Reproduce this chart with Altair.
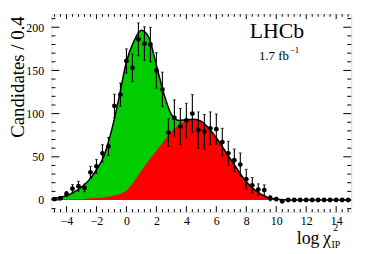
import altair as alt
import pandas as pd

# ---------------- data ----------------
bin_x = [-4.8, -4.4, -4.0, -3.6, -3.2, -2.8, -2.4, -2.0, -1.6, -1.2,
         -0.8, -0.4, 0.0, 0.4, 0.8, 1.2, 1.6, 2.0, 2.4, 2.8,
         3.2, 3.6, 4.0, 4.4, 4.8, 5.2, 5.6, 6.0, 6.4, 6.8,
         7.2, 7.6, 8.0, 8.4, 8.8, 9.2, 9.6, 10.0, 10.4, 10.8,
         11.2, 11.6, 12.0, 12.4, 12.8, 13.2, 13.6, 14.0, 14.4, 14.8]
counts = [1, 2, 7, 13, 16, 14, 32, 39, 54, 62,
          109, 122, 161, 153, 186, 181, 180, 150, 128, 78,
          95, 85, 92, 100, 81, 79, 83, 82, 67, 54,
          46, 41, 24, 17, 12, 11.5, 2, 1, -1.5, 0,
          0, 0, 0, 0, 0, 0, 0, 0, 0, 0]
errors = [1, 1.3, 2.7, 4.8, 5.7, 4.4, 7, 8, 10, 10.5,
          13.4, 13.4, 14, 16, 19, 19.5, 20, 20.6, 20, 16,
          21, 21, 20, 22, 21, 20, 19, 17.6, 16, 14,
          13, 13.5, 11.5, 9, 6.7, 6, 3, 2, 1.5, 0.8,
          0.8, 0.8, 0.8, 0.8, 0.8, 0.8, 0.8, 0.8, 0.8, 0.8]

curve_x = [-5, -4.5, -4, -3.5, -3, -2.5, -2, -1.5, -1, -0.5,
           0, 0.5, 1, 1.5, 2, 2.5, 3, 3.5, 4, 4.5,
           5, 5.5, 6, 6.5, 7, 7.5, 8, 8.5, 9, 9.5,
           10, 10.5, 11, 12, 13, 14, 15]
total_fit = [1.5, 3, 5, 9, 15, 23, 35, 51, 80, 118,
             160, 184, 196.5, 188, 156, 123, 99, 92, 93, 93.5,
             91, 83, 72, 59, 46, 33, 21, 12.5, 6.5, 2.5,
             0.8, 0.2, 0, 0, 0, 0, 0]
bkg_fit = [0.2, 0.4, 0.6, 0.9, 1.2, 1.6, 2.2, 3, 4.5, 6.5,
           11, 21, 34, 46, 57, 68, 79, 87, 91.5, 93.5,
           91, 83, 72, 59, 46, 33, 21, 12.5, 6.5, 2.5,
           0.8, 0.2, 0, 0, 0, 0, 0]

x_major = [-4, -2, 0, 2, 4, 6, 8, 10, 12, 14]
x_minor = [-4.8, -4.4, -3.6, -3.2, -2.8, -2.4, -1.6, -1.2, -0.8, -0.4,
           0.4, 0.8, 1.2, 1.6, 2.4, 2.8, 3.2, 3.6, 4.4, 4.8, 5.2, 5.6,
           6.4, 6.8, 7.2, 7.6, 8.4, 8.8, 9.2, 9.6, 10.4, 10.8, 11.2, 11.6,
           12.4, 12.8, 13.2, 13.6, 14.4, 14.8]
y_major = [0, 50, 100, 150, 200]
y_minor = [-10, 10, 20, 30, 40, 60, 70, 80, 90, 110, 120, 130, 140,
           160, 170, 180, 190, 210]

# ---------------- chart ----------------
W, H = 303, 200
FONT = "Liberation Serif"
xs = alt.Scale(domain=[-5, 15], nice=False, zero=False)
ys = alt.Scale(domain=[-14, 215], nice=False, zero=False)
xax = alt.Axis(values=x_major, tickSize=0, domain=False, grid=False,
               labelFont=FONT, labelFontSize=12, labelPadding=4,
               labelColor="black", title=None, labelFlush=False)
yax = alt.Axis(values=y_major, tickSize=0, domain=False, grid=False,
               labelFont=FONT, labelFontSize=12, labelPadding=8,
               labelColor="black", title=None)


def X(f="x"):
    return alt.X(f"{f}:Q", scale=xs, axis=xax)


def Y(f):
    return alt.Y(f"{f}:Q", scale=ys, axis=yax)


pts = pd.DataFrame({"x": bin_x, "y": counts,
                    "lo": [c - e for c, e in zip(counts, errors)],
                    "hi": [c + e for c, e in zip(counts, errors)]})
fit = pd.DataFrame({"x": curve_x, "tot": total_fit, "bkg": bkg_fit})

green = alt.Chart(fit).mark_area(color="#00cc00", interpolate="monotone").encode(
    x=X(), y=Y("tot"), y2=alt.datum(0))
red = alt.Chart(fit).mark_area(color="#ff0000", interpolate="monotone").encode(
    x=X(), y=Y("bkg"), y2=alt.datum(0))
line = alt.Chart(fit).mark_line(color="black", strokeWidth=1.5, interpolate="monotone").encode(
    x=X(), y=Y("tot"))
bars = alt.Chart(pts).mark_rule(color="black", strokeWidth=1.1).encode(
    x=X(), y=Y("lo"), y2="hi:Q")
cap_lo = alt.Chart(pts).mark_tick(color="black", orient="horizontal", size=3, thickness=1).encode(
    x=X(), y=Y("lo"))
cap_hi = alt.Chart(pts).mark_tick(color="black", orient="horizontal", size=3, thickness=1).encode(
    x=X(), y=Y("hi"))
dots = alt.Chart(pts).mark_circle(color="black", size=24, opacity=1).encode(
    x=X(), y=Y("y"))

# inward ticks on all four sides
xM = pd.DataFrame({"x": x_major})
xm = pd.DataFrame({"x": x_minor})
yM = pd.DataFrame({"y": y_major})
ym = pd.DataFrame({"y": y_minor})
tick_layers = [
    alt.Chart(xM).mark_rule(color="black").encode(x=X(), y=alt.value(H), y2=alt.value(H - 6)),
    alt.Chart(xm).mark_rule(color="black").encode(x=X(), y=alt.value(H), y2=alt.value(H - 3)),
    alt.Chart(xM).mark_rule(color="black").encode(x=X(), y=alt.value(0), y2=alt.value(5)),
    alt.Chart(xm).mark_rule(color="black").encode(x=X(), y=alt.value(0), y2=alt.value(2.5)),
    alt.Chart(yM).mark_rule(color="black").encode(y=Y("y"), x=alt.value(0), x2=alt.value(8)),
    alt.Chart(ym).mark_rule(color="black").encode(y=Y("y"), x=alt.value(0), x2=alt.value(4)),
    alt.Chart(yM).mark_rule(color="black").encode(y=Y("y"), x=alt.value(W), x2=alt.value(W - 8)),
    alt.Chart(ym).mark_rule(color="black").encode(y=Y("y"), x=alt.value(W), x2=alt.value(W - 4)),
]

one = pd.DataFrame({"a": [0]})


def label(text, x, y, size, align="left", angle=0, baseline="alphabetic"):
    return alt.Chart(one).mark_text(text=text, font=FONT, fontSize=size, color="black",
                                    align=align, angle=angle, baseline=baseline).encode(
        x=alt.value(x), y=alt.value(y))


texts = [
    label("Candidates / 0.4", -33.5, 2, 19, align="right", angle=270, baseline="middle"),
    label("log", 248, 232, 18),
    label("χ", 274.5, 232, 18),
    label("2", 285, 219, 10),
    label("IP", 283, 236, 10),
    label("LHCb", 228, 24, 22, align="center"),
    label("1.7 fb", 240, 46, 13, align="right"),
    label("−1", 241, 39.5, 9),
]

chart = alt.layer(green, red, line, bars, cap_lo, cap_hi, dots, *tick_layers, *texts).properties(
    width=W, height=H,
    autosize=alt.AutoSizeParams(type="none"),
    padding={"left": 44, "top": 5, "right": 15, "bottom": 38},
).configure_view(stroke="black", strokeWidth=1.2).configure(background="white")

chart.save("out.html", embed_options={"renderer": "svg", "actions": False})
